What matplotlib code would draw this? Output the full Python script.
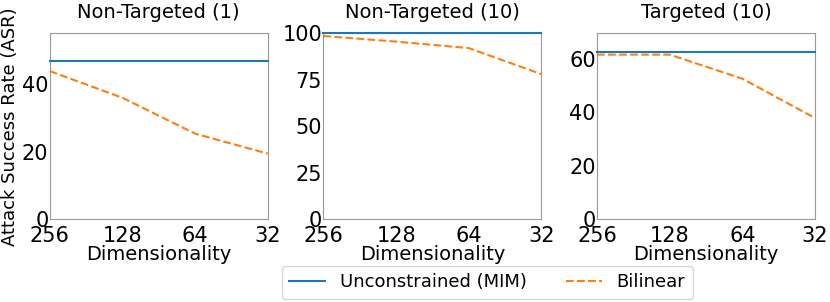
import matplotlib
matplotlib.use('Agg')
import matplotlib.pyplot as plt

dims = ['256', '128', '64', '32']
titles = ['Non-Targeted (1)', 'Non-Targeted (10)', 'Targeted (10)']
mim = [[46.8] * 4, [100, 100, 100, 100], [62.5] * 4]
bilinear = [[43.8, 35.9, 25.3, 19.4],
            [98.5, 95.5, 92.0, 78.0],
            [61.5, 61.5, 52.5, 37.8]]
ylims = [55, 100, 69.5]
yticks = [[0, 20, 40], [0, 25, 50, 75, 100], [0, 20, 40, 60]]

fig, axes = plt.subplots(1, 3, figsize=(8.3, 3.02), dpi=100)
fig.subplots_adjust(left=0.060, right=0.982, top=0.890, bottom=0.274, wspace=0.255)

x = list(range(len(dims)))
for i, ax in enumerate(axes):
    for s in ax.spines.values():
        s.set_color('#999999')
        s.set_zorder(1)
    l1, = ax.plot(x, mim[i], color='tab:blue', lw=1.5, clip_on=False,
                  zorder=3, label='Unconstrained (MIM)')
    l2, = ax.plot(x, bilinear[i], color='tab:orange', lw=1.5, ls='--',
                  clip_on=False, zorder=3, label='Bilinear')
    ax.set_xlim(0, 3)
    ax.set_ylim(0, ylims[i])
    ax.set_xticks(x)
    ax.set_xticklabels(dims)
    ax.set_yticks(yticks[i])
    ax.tick_params(labelsize=15, length=0)
    ax.tick_params(axis='x', pad=5)
    ax.tick_params(axis='y', pad=1)
    ax.set_title(titles[i], fontsize=14, pad=11)
    ax.set_xlabel('Dimensionality', fontsize=14, labelpad=-1)

axes[0].set_ylabel('Attack Success Rate (ASR)', fontsize=13, labelpad=2)
fig.legend([l1, l2], ['Unconstrained (MIM)', 'Bilinear'], loc='center',
           bbox_to_anchor=(0.587, 0.065), ncol=2, fontsize=13, columnspacing=2.2)

fig.savefig('out.png', dpi=100)
